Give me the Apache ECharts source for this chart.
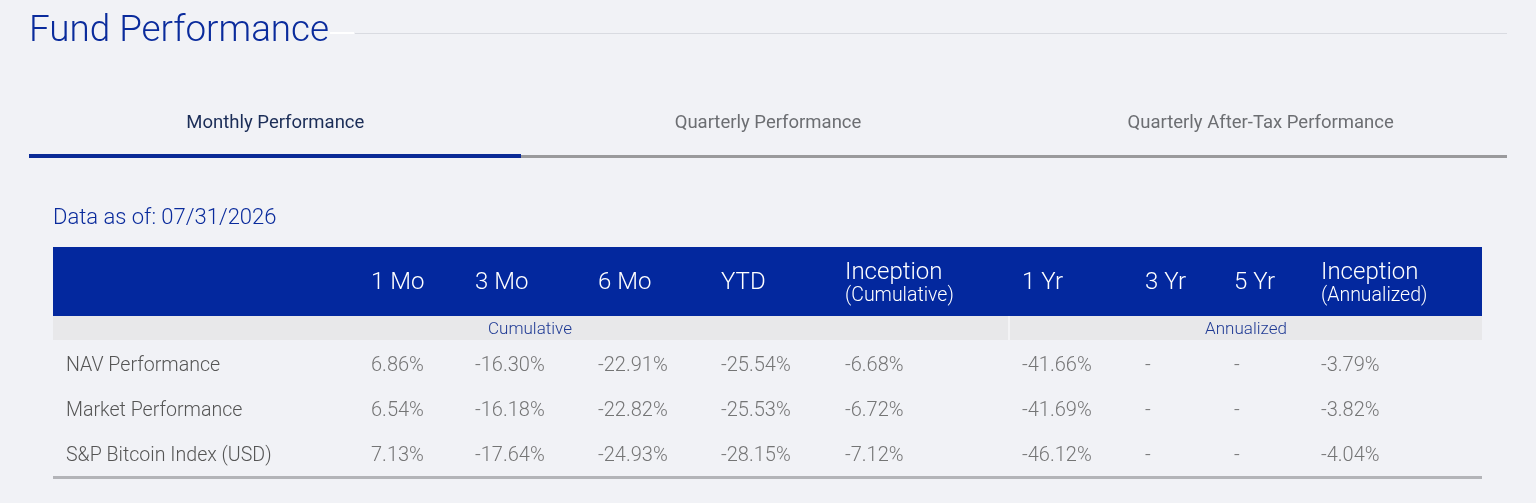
<!DOCTYPE html>
<html>
<head>
<meta charset="utf-8">
<script src="https://cdn.jsdelivr.net/npm/echarts@6/dist/echarts.min.js"></script>
<style>
  html, body { margin: 0; padding: 0; background: #f1f2f6; }
  #main { width: 1536px; height: 503px; }
</style>
</head>
<body>
<div id="main"></div>
<script>
// 表格数据
var tabs = ['Monthly Performance', 'Quarterly Performance', 'Quarterly After-Tax Performance'];
var columns = ['1 Mo', '3 Mo', '6 Mo', 'YTD', 'Inception|(Cumulative)', '1 Yr', '3 Yr', '5 Yr', 'Inception|(Annualized)'];
var groups = ['Cumulative', 'Annualized'];
var rows = ['NAV Performance', 'Market Performance', 'S&P Bitcoin Index (USD)'];
var navPerf = [6.86, -16.30, -22.91, -25.54, -6.68, -41.66, null, null, -3.79];
var marketPerf = [6.54, -16.18, -22.82, -25.53, -6.72, -41.69, null, null, -3.82];
var indexPerf = [7.13, -17.64, -24.93, -28.15, -7.12, -46.12, null, null, -4.04];
var asOf = '07/31/2026';

// 版式 (像素)
var colX = [371, 475, 598, 721, 845, 1022, 1145, 1234, 1321];
var tableL = 53, tableR = 1482;
var font = 'Roboto, "Noto Sans", sans-serif';
var blue = '#0a2b9c';

var chart = echarts.init(document.getElementById('main'));

var rowData = [navPerf, marketPerf, indexPerf];
var series = rowData.map(function (vals, r) {
    return {
        type: 'scatter',
        symbolSize: 0,
        silent: true,
        data: vals.map(function (v, j) { return [colX[j], rows[r], v]; }),
        label: {
            show: true,
            position: 'right',
            distance: 0,
            fontFamily: font,
            fontWeight: 300,
            fontSize: 20,
            color: '#555',
            formatter: function (p) {
                var v = p.value[2];
                return v === null ? '-' : v.toFixed(2) + '%';
            }
        }
    };
});

var graphic = [];
// 标题
graphic.push({ type: 'text', left: 29, top: 13, style: { text: 'Fund Performance', font: '300 36.8px ' + font, fill: blue } });
graphic.push({ type: 'rect', shape: { x: 330, y: 32, width: 24, height: 2 }, style: { fill: '#ffffff' } });
graphic.push({ type: 'rect', shape: { x: 355, y: 33, width: 1152, height: 1 }, style: { fill: '#d9dbe1' } });

// 选项卡
var tabW = (1507 - 29) / tabs.length;
tabs.forEach(function (t, i) {
    graphic.push({
        type: 'text', x: 29 + tabW * (i + 0.5), y: 123,
        style: {
            text: t, font: '400 18.5px ' + font, fill: i === 0 ? '#1b2d57' : '#6c6e72',
            textAlign: 'center', textVerticalAlign: 'middle'
        }
    });
});
graphic.push({ type: 'rect', shape: { x: 521, y: 155, width: 986, height: 3 }, style: { fill: '#9a9a9c' } });
graphic.push({ type: 'rect', shape: { x: 29, y: 154, width: 492, height: 4 }, style: { fill: '#0b2b96' } });

graphic.push({ type: 'text', x: 53, y: 218, style: { text: 'Data as of: ' + asOf, font: '300 22px ' + font, fill: blue, textVerticalAlign: 'middle' } });

// 表头
graphic.push({ type: 'rect', shape: { x: tableL, y: 247, width: tableR - tableL, height: 69 }, style: { fill: '#03289e' } });
columns.forEach(function (c, j) {
    var parts = c.split('|');
    if (parts.length === 1) {
        graphic.push({ type: 'text', x: colX[j], y: 283, style: { text: c, font: '300 24px ' + font, fill: '#fff', textVerticalAlign: 'middle' } });
    } else {
        graphic.push({ type: 'text', x: colX[j], y: 273, style: { text: parts[0], font: '300 24px ' + font, fill: '#fff', textVerticalAlign: 'middle' } });
        graphic.push({ type: 'text', x: colX[j], y: 296, style: { text: parts[1], font: '300 19.5px ' + font, fill: '#fff', textVerticalAlign: 'middle' } });
    }
});
graphic.push({ type: 'rect', shape: { x: tableL, y: 316, width: tableR - tableL, height: 24 }, style: { fill: '#e8e8ea' } });
graphic.push({ type: 'rect', shape: { x: 1008, y: 316, width: 2, height: 24 }, style: { fill: '#f3f3f5' } });
var groupCenter = [530, 1246];
groups.forEach(function (g, i) {
    graphic.push({ type: 'text', x: groupCenter[i], y: 330, style: { text: g, font: '300 17px ' + font, fill: '#1f3a94', textAlign: 'center', textVerticalAlign: 'middle' } });
});
graphic.push({ type: 'rect', shape: { x: tableL, y: 476, width: tableR - tableL, height: 3 }, style: { fill: '#b3b4b8' } });

chart.setOption({
    backgroundColor: '#f1f2f6',
    animation: false,
    grid: { left: 66, right: 0, top: 343, height: 136 },
    xAxis: { type: 'value', min: 66, max: 1536, show: false },
    yAxis: {
        type: 'category',
        data: rows,
        inverse: true,
        axisLine: { show: false },
        axisTick: { show: false },
        splitLine: { show: false },
        axisLabel: {
            inside: true,
            margin: 0,
            align: 'left',
            fontFamily: font,
            fontWeight: 300,
            fontSize: 19.6,
            color: '#555'
        }
    },
    graphic: graphic,
    series: series
});
</script>
</body>
</html>
